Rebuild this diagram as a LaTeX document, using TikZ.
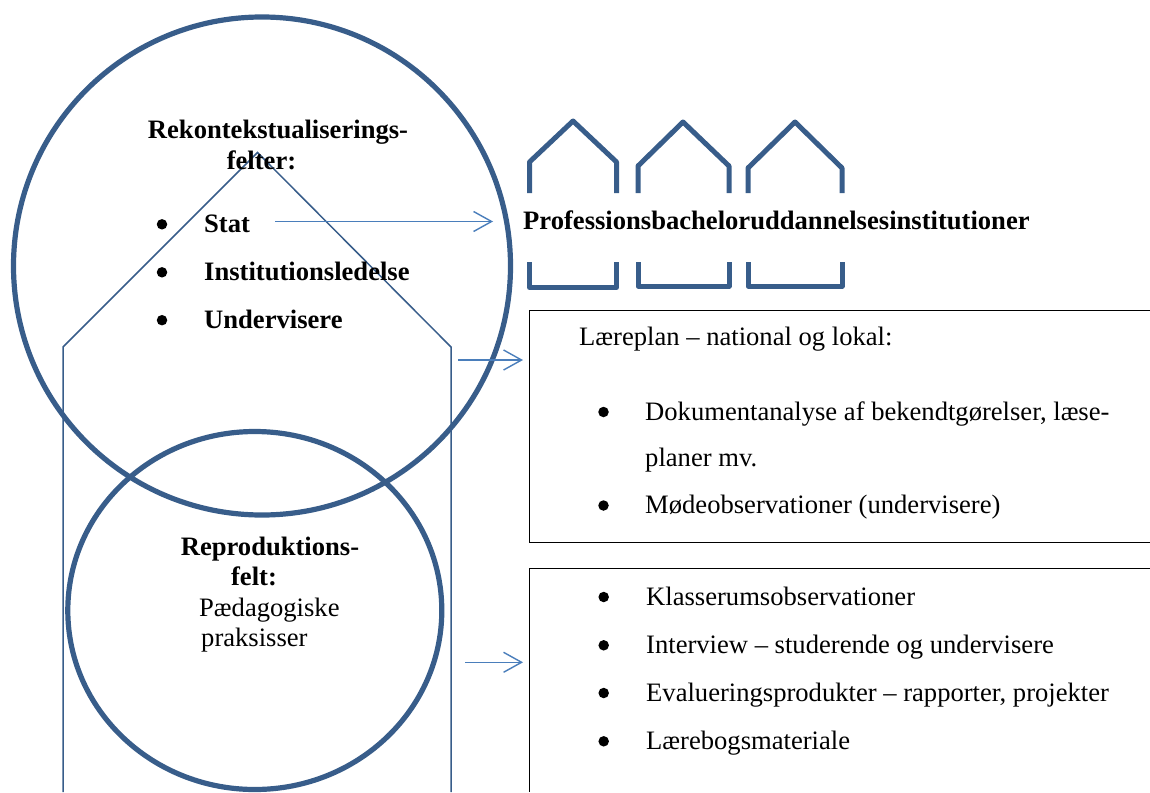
\documentclass[tikz,border=0pt]{standalone}
\usepackage{fontspec}
\setmainfont{Liberation Serif}
\usetikzlibrary{arrows.meta,shapes.geometric}
\definecolor{ringblue}{HTML}{385D8A}
\definecolor{lineblue}{HTML}{4A7EBB}
\tikzset{
  ring/.style={draw=ringblue,line width=5.2pt,ellipse,inner sep=0pt},
  house/.style={draw=ringblue,line width=5pt,line join=round},
  thinblue/.style={draw=ringblue,line width=1.5pt},
  arrowline/.style={draw=lineblue,line width=1.4pt,-{Straight Barb[length=18pt,width=20pt,line width=1.4pt]}},
  boxline/.style={draw=black,line width=1pt},
  txt/.style={anchor=base west,inner sep=0pt,font=\fontsize{26.6}{26.6}\selectfont},
  btxt/.style={txt,font=\fontsize{26.6}{26.6}\selectfont\bfseries},
  dot/.style={circle,fill=black,inner sep=0pt,minimum size=10.5pt}
}
\begin{document}
\begin{tikzpicture}[x=1pt,y=-1pt]
\useasboundingbox (0,0) rectangle (1150,792);
% pentagon
\draw[thinblue] (63,792) -- (63,347) -- (257.5,152.5) -- (451,347) -- (451,792);
% circles
\node[ring,minimum width=497pt,minimum height=498pt] (big) at (262,266) {};
\node[ring,minimum width=374pt,minimum height=358pt] (small) at (254.8,610.5) {};
% houses
\draw[house] (529.5,193) -- (529.5,162) -- (573,121) -- (616.5,162) -- (616.5,193);
\draw[house] (529.5,262) -- (529.5,287.5) -- (616.5,287.5) -- (616.5,262);
\draw[house] (638,193) -- (638,166) -- (683,122) -- (729,166) -- (729,193);
\draw[house] (638,262) -- (638,286) -- (729,286) -- (729,262);
\draw[house] (748,193) -- (748,168) -- (795,122) -- (842,168) -- (842,193);
\draw[house] (748,262) -- (748,286) -- (842,286) -- (842,262);
% boxes
\draw[boxline] (1150,310.5) -- (529,310.5) -- (529,542.5) -- (1150,542.5);
\draw[boxline] (1150,568.5) -- (529,568.5) -- (529,792);
% texts
\node[btxt,anchor=base] (t1) at (278,138) {Rekontekstualiserings-};
\node[btxt,anchor=base] (t2) at (261.5,169.5) {felter:};
\node[dot] (d1) at (162,224.3) {}; \node[btxt] (t3) at (204,232) {Stat};
\node[dot] (d2) at (162,272.3) {}; \node[btxt] (t4) at (204,280) {Institutionsledelse};
\node[dot] (d3) at (162,320.2) {}; \node[btxt] (t5) at (204,328) {Undervisere};
\node[btxt] (t6) at (523,229) {Professionsbacheloruddannelsesinstitutioner};
\node[btxt,anchor=base] (t7) at (270,555.5) {Reproduktions-};
\node[btxt,anchor=base] (t8) at (254,585.5) {felt:};
\node[txt] (t9) at (199,616.5) {Pædagogiske};
\node[txt] (t10) at (201,646.5) {praksisser};
\node[txt] (b0) at (579,345) {Læreplan – national og lokal:};
\node[dot] (d4) at (603.5,412) {}; \node[txt] (b1) at (645,420) {Dokumentanalyse af bekendtgørelser, læse-};
\node[txt] (b2) at (645,466) {planer mv.};
\node[dot] (d5) at (603.5,505.5) {}; \node[txt] (b3) at (645,513) {Mødeobservationer (undervisere)};
\node[dot] (d6) at (603.7,597) {}; \node[txt] (c1) at (646,605) {Klasserumsobservationer};
\node[dot] (d7) at (603.7,645.3) {}; \node[txt] (c2) at (646,653) {Interview – studerende og undervisere};
\node[dot] (d8) at (603.7,693) {}; \node[txt] (c3) at (646,701) {Evalueringsprodukter – rapporter, projekter};
\node[dot] (d9) at (603.7,741.3) {}; \node[txt] (c4) at (646,749) {Lærebogsmateriale};
% arrows
\coordinate (a1s) at (275,221.5); \coordinate (a1e) at (493,221.5);
\coordinate (a2s) at (458,360); \coordinate (a2e) at (523,360);
\coordinate (a3s) at (465,662.3); \coordinate (a3e) at (523,662.3);
\draw[arrowline] (a1s) -- (a1e);
\draw[arrowline] (a2s) -- (a2e);
\draw[arrowline] (a3s) -- (a3e);
\end{tikzpicture}
\end{document}
